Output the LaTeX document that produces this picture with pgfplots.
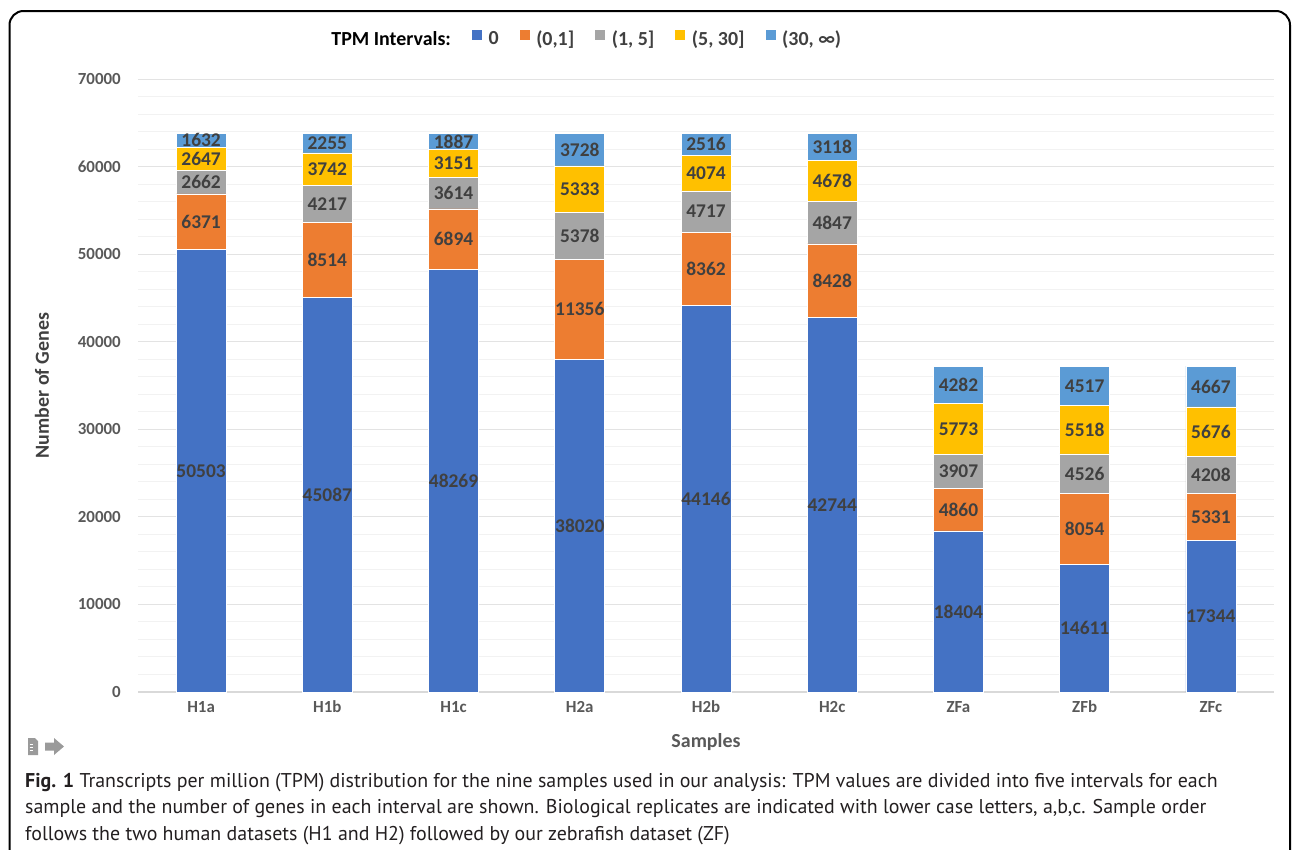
\documentclass[border=0pt]{standalone}
\usepackage{pgfplots}
\pgfplotsset{compat=1.18}
\usepackage{pgfplotstable}
\usepackage{fontspec}
\setmainfont{Carlito}
\newfontfamily\capfont{PT Sans}
\definecolor{c0}{HTML}{4472C4}
\definecolor{c1}{HTML}{ED7D31}
\definecolor{c2}{HTML}{A5A5A5}
\definecolor{c3}{HTML}{FFC000}
\definecolor{c4}{HTML}{5B9BD5}
\definecolor{lab}{HTML}{404040}
\definecolor{tickc}{HTML}{595959}
\definecolor{capc}{HTML}{231F20}
\definecolor{gridmaj}{HTML}{E3E3E3}
\definecolor{gridmin}{HTML}{F2F2F2}
\definecolor{axc}{HTML}{D9D9D9}
\definecolor{iconc}{HTML}{9A9A9A}

\pgfplotstableread{
x  z     a     b    c    d
0  50503 6371  2662 2647 1632
1  45087 8514  4217 3742 2255
2  48269 6894  3614 3151 1887
3  38020 11356 5378 5333 3728
4  44146 8362  4717 4074 2516
5  42744 8428  4847 4678 3118
6  18404 4860  3907 5773 4282
7  14611 8054  4526 5518 4517
8  17344 5331  4208 5676 4667
}\datatable

\pgfplotsset{
  centered labels/.style={
    nodes near coords={\pgfmathprintnumber[fixed,precision=0]{\pgfplotspointmeta}},
    point meta=explicit,
    every node near coord/.style={anchor=center, inner sep=0pt,
      font=\bfseries\fontsize{19.5}{20}\selectfont, text=lab},
  },
}

\begin{document}
\begin{tikzpicture}[x=1bp,y=1bp]
\useasboundingbox (0,0) rectangle (1292,-850);
\draw[line width=2bp, rounded corners=14bp] (9.5,-11) rectangle (1290,-920);
\begin{axis}[
  at={(138bp,-692bp)}, anchor=south west,
  scale only axis, width=1136bp, height=613bp,
  ybar stacked, bar width=50bp,
  xmin=-0.5, xmax=8.5, ymin=0, ymax=70000,
  xtick={0,...,8}, xticklabels={H1a,H1b,H1c,H2a,H2b,H2c,ZFa,ZFb,ZFc},
  ytick={0,10000,...,70000},
  minor y tick num=4,
  scaled y ticks=false,
  ymajorgrids, yminorgrids,
  major grid style={draw=gridmaj, line width=1bp},
  minor grid style={draw=gridmin, line width=1bp},
  axis x line*=bottom, axis y line*=left,
  y axis line style={draw=none},
  x axis line style={-, draw=axc, line width=1.5bp},
  tick style={draw=none},
  major tick length=0pt, minor tick length=0pt,
  yticklabel style={anchor=east, inner sep=0pt, xshift=-17bp, font=\bfseries\fontsize{17}{17}\selectfont, text=tickc},
  xticklabel style={anchor=center, inner sep=0pt, yshift=-15bp, font=\bfseries\fontsize{17}{17}\selectfont, text=tickc},
  xlabel={Samples}, ylabel={Number of Genes},
  xlabel style={at={(axis description cs:0.5,-0.0816)}, anchor=center, inner sep=0pt, font=\bfseries\fontsize{20}{20}\selectfont, text=tickc},
  ylabel style={at={(axis description cs:-0.0845,0.5)}, anchor=center, inner sep=0pt, font=\bfseries\fontsize{20}{20}\selectfont, text=lab},
  legend columns=6,
  legend style={at={(axis description cs:0.392,1.067)}, anchor=center, draw=none, fill=none,
    font=\bfseries\fontsize{20}{20}\selectfont, text=lab,
    nodes={inner sep=0pt},
    /tikz/every odd column/.append style={column sep=6bp},
    /tikz/every even column/.append style={column sep=20bp}},
  legend image code/.code={\fill[#1] (0bp,-1bp) rectangle (11bp,10bp);},
  /pgf/number format/1000 sep={},
  /pgf/number format/assume math mode=true,
]
\addlegendimage{empty legend}
\addlegendentry{\textcolor{black}{TPM Intervals:}}
\addplot[fill=c0, draw=white, line width=0.6bp, centered labels] table[x=x, y=z, meta=z] {\datatable};
\addlegendentry{0}
\addplot[fill=c1, draw=white, line width=0.6bp, centered labels] table[x=x, y=a, meta=a] {\datatable};
\addlegendentry{(0,1]}
\addplot[fill=c2, draw=white, line width=0.6bp, centered labels] table[x=x, y=b, meta=b] {\datatable};
\addlegendentry{(1, 5]}
\addplot[fill=c3, draw=white, line width=0.6bp, centered labels] table[x=x, y=c, meta=c] {\datatable};
\addlegendentry{(5, 30]}
\addplot[fill=c4, draw=white, line width=0.6bp, centered labels] table[x=x, y=d, meta=d] {\datatable};
\addlegendentry{(30, ∞)}
\end{axis}
% icon
\fill[iconc] (28,-738) -- (35,-738) -- (38,-741) -- (38,-755) -- (28,-755) -- cycle;
\draw[white, line width=0.8bp] (29.5,-744) -- (33,-744) (29.5,-747) -- (33,-747) (29.5,-750) -- (33,-750);
\fill[iconc] (45,-742.5) -- (54,-742.5) -- (54,-738) -- (64,-746.5) -- (54,-755) -- (54,-750.5) -- (45,-750.5) -- cycle;
% caption
\begin{scope}[every node/.style={anchor=base west, inner sep=0pt, text=capc, font=\capfont\fontsize{20}{20}\selectfont}]
\node at (25,-787) {\textbf{Fig. 1} Transcripts per million (TPM) distribution for the nine samples used in our analysis: TPM values are divided into five intervals for each};
\node at (25,-813.5) {sample and the number of genes in each interval are shown. Biological replicates are indicated with lower case letters, a,b,c. Sample order};
\node at (25,-840) {follows the two human datasets (H1 and H2) followed by our zebrafish dataset (ZF)};
\end{scope}
\end{tikzpicture}
\end{document}
